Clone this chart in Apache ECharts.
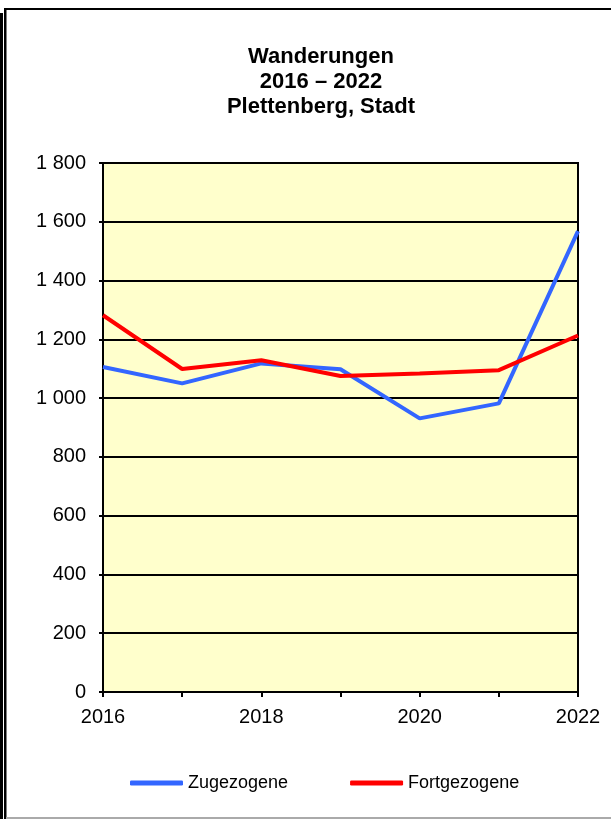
<!DOCTYPE html>
<html lang="de">
<head>
    <meta charset="UTF-8">
    <title>Wanderungen 2016 – 2022 Plettenberg, Stadt</title>
    <script src="https://cdn.jsdelivr.net/npm/echarts@6/dist/echarts.min.js"></script>
    <style>
        * { margin: 0; padding: 0; box-sizing: border-box; }
        body { background: #fff; }
        #main { width: 611px; height: 819px; }
    </style>
</head>
<body>
    <div id="main"></div>
    <script>
        // Daten
        const years = ['2016', '2017', '2018', '2019', '2020', '2021', '2022'];
        const zugezogene = [1106, 1050, 1118, 1098, 931, 982, 1568];
        const fortgezogene = [1282, 1099, 1129, 1075, 1084, 1095, 1213];
        const titleLines = ['Wanderungen', '2016 – 2022', 'Plettenberg, Stadt'];

        const chart = echarts.init(document.getElementById('main'));
        const font = '"Liberation Sans", Arial, sans-serif';

        // Tausendertrennzeichen mit Leerzeichen
        function fmt(v) {
            return String(v).replace(/\B(?=(\d{3})+(?!\d))/g, ' ');
        }

        // Titelzeilen als zentrierte Texte
        const titleTexts = titleLines.map(function (line, i) {
            return {
                type: 'text',
                x: 321,
                y: 46 + i * 25,
                style: {
                    text: line,
                    align: 'center',
                    textAlign: 'center',
                    verticalAlign: 'top',
                    font: 'bold 22px ' + font,
                    fill: '#000'
                }
            };
        });

        const option = {
            backgroundColor: '#fff',
            animation: false,
            textStyle: { fontFamily: font, color: '#000' },
            graphic: [
                // Rahmen
                { type: 'rect', shape: { x: 0, y: 13, width: 3, height: 806 }, style: { fill: '#000' } },
                { type: 'rect', shape: { x: 4, y: 8, width: 2.5, height: 811 }, style: { fill: '#000' } },
                { type: 'rect', shape: { x: 4, y: 8, width: 607, height: 2 }, style: { fill: '#000' } },
                { type: 'rect', shape: { x: 6, y: 817, width: 605, height: 2 }, style: { fill: '#aaa' } }
            ].concat(titleTexts),
            legend: {
                left: 125,
                top: 769,
                icon: 'roundRect',
                itemWidth: 53,
                itemHeight: 5,
                itemGap: 62,
                textStyle: { fontSize: 18, fontFamily: font, color: '#000' },
                data: ['Zugezogene', 'Fortgezogene']
            },
            grid: {
                left: 103,
                right: 33,
                top: 163,
                bottom: 127,
                show: true,
                backgroundColor: '#FFFFCC',
                borderColor: '#000',
                borderWidth: 2
            },
            xAxis: {
                type: 'category',
                data: years,
                boundaryGap: false,
                axisLine: { lineStyle: { color: '#000', width: 2 } },
                axisTick: { show: true, interval: 0, length: 5, lineStyle: { color: '#000', width: 2 } },
                axisLabel: { interval: 1, fontSize: 20, color: '#000', margin: 15, fontFamily: font },
                splitLine: { show: false }
            },
            yAxis: {
                type: 'value',
                min: 0,
                max: 1800,
                interval: 200,
                axisLine: { show: true, lineStyle: { color: '#000', width: 2 } },
                axisTick: { show: true, length: 4, lineStyle: { color: '#000', width: 2 } },
                axisLabel: { fontSize: 20, color: '#000', margin: 17, fontFamily: font, formatter: fmt },
                splitLine: { show: true, lineStyle: { color: '#000', width: 2 } }
            },
            series: [
                {
                    name: 'Zugezogene',
                    type: 'line',
                    data: zugezogene,
                    symbol: 'none',
                    lineStyle: { color: '#3366FF', width: 4 },
                    itemStyle: { color: '#3366FF' }
                },
                {
                    name: 'Fortgezogene',
                    type: 'line',
                    data: fortgezogene,
                    symbol: 'none',
                    lineStyle: { color: '#FF0000', width: 4 },
                    itemStyle: { color: '#FF0000' }
                }
            ]
        };

        chart.setOption(option);
    </script>
</body>
</html>
